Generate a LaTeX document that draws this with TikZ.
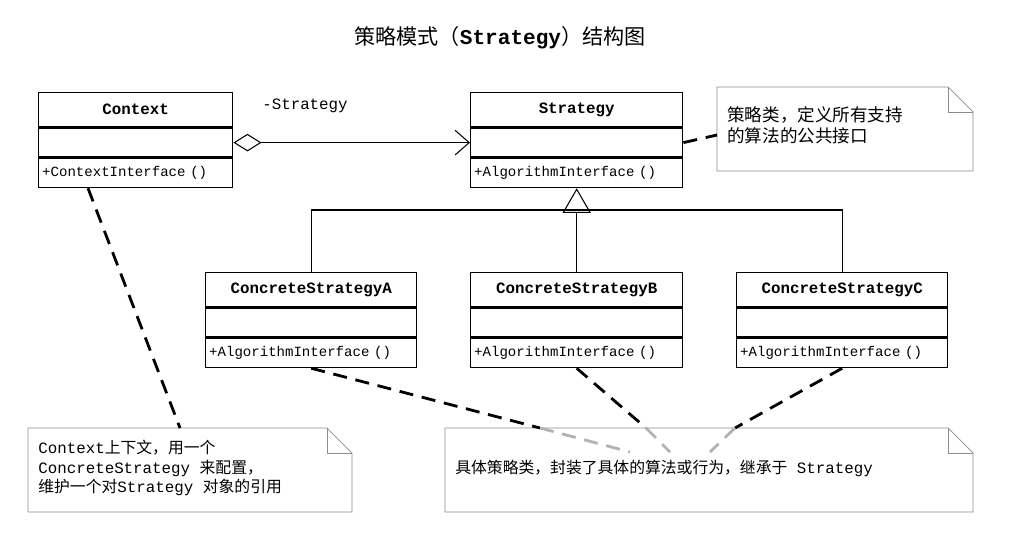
\documentclass[tikz,border=0pt]{standalone}
\usepackage{fontspec}
\setmainfont{Liberation Mono}
\newfontfamily\cjk{Noto Sans CJK SC}
\usetikzlibrary{arrows.meta,positioning}
\tikzset{
  title/.style={draw, thick, fill=white, inner sep=0pt, minimum width=#1,
    minimum height=34*0.02cm, font=\bfseries\small},
  part/.style={draw, thick, fill=white, inner sep=2pt, minimum width=#1,
    minimum height=29*0.02cm, font=\footnotesize},
  note/.style={draw=black!45, fill=white},
  link/.style={ultra thick, dashed, dash pattern=on 8pt off 5pt},
  faint/.style={link, draw=black!30}
}
% uml class: name, x, y (top), width (px), title, method
\newcommand{\umlclass}[6]{%
  \node[title=#4*0.02cm, anchor=north west] (#1) at (#2,#3) {#5};
  \node[part=#4*0.02cm, anchor=north] (#1e) at (#1.south) {};
  \node[part=#4*0.02cm, anchor=north, align=left, text width=#4*0.02cm-4pt]
    (#1m) at (#1e.south) {#6};}
% folded note: name, x1, y1, x2, y2
\newcommand{\umlnote}[5]{%
  \path[note] (#2,#3) -- (#4-25,#3) -- (#4,#3+25) -- (#4,#5) -- (#2,#5) -- cycle;
  \draw[draw=black!45] (#4-25,#3) -- (#4-25,#3+25) -- (#4,#3+25);
  \coordinate (#1) at (#2,#3);}
\begin{document}
\begin{tikzpicture}[x=0.02cm, y=-0.02cm]
\useasboundingbox (0,0) rectangle (1010,542);
\node[font=\large] (head) at (500,38) {{\cjk 策略模式（}\textbf{Strategy}{\cjk ）结构图}};

% classes
\umlclass{ctx}{38}{92}{194}{Context}{+ContextInterface ()}
\umlclass{str}{470}{92}{212}{Strategy}{+AlgorithmInterface ()}
\umlclass{csa}{205}{272}{211}{ConcreteStrategyA}{+AlgorithmInterface ()}
\umlclass{csb}{470}{272}{212}{ConcreteStrategyB}{+AlgorithmInterface ()}
\umlclass{csc}{736}{272}{211}{ConcreteStrategyC}{+AlgorithmInterface ()}

% aggregation
\draw[{Diamond[open,length=16pt,width=10pt]}-{Straight Barb[length=8pt,width=14pt]}, semithick]
  (ctxe.east) -- (stre.west);
\node[font=\small] (role) at (305,106) {-Strategy};

% generalisation
\coordinate (bus) at (576,210);
\draw[semithick] (csa.north) |- (bus) -| (csc.north);
\draw[semithick, -{Triangle[open,length=14pt,width=16pt]}] (csb.north) -- (strm.south);

% notes
\umlnote{n1}{717}{87}{973}{171}
\node[anchor=north west, align=left, font=\cjk, inner sep=0pt] (t1) at (727,106)
  {策略类，定义所有支持\\的算法的公共接口};
\umlnote{n2}{28}{428}{352}{512}
\node[anchor=north west, align=left, font=\small, inner sep=0pt] (t2) at (38,440)
  {Context{\cjk 上下文，用一个}\\ConcreteStrategy {\cjk 来配置，}\\{\cjk 维护一个对}Strategy {\cjk 对象的引用}};
\umlnote{n3}{445}{428}{973}{512}
\node[anchor=west, font=\small, inner sep=0pt] (t3) at (455,468)
  {{\cjk 具体策略类，封装了具体的算法或行为，继承于} Strategy};

% dashed links
\coordinate (ea) at (630,452); \coordinate (eb) at (670,452); \coordinate (ec) at (710,452);
\coordinate (ia) at (540,428); \coordinate (ib) at (646,428); \coordinate (ic) at (735,428);
\draw[link] (stre.east) -- (717,135);
\draw[link] (ctxm.south west) ++(50,0) -- (180,428);
\draw[link] (csam.south) -- (ia); \draw[faint] (ia) -- (ea);
\draw[link] (csbm.south) -- (ib); \draw[faint] (ib) -- (eb);
\draw[link] (cscm.south) -- (ic); \draw[faint] (ic) -- (ec);
\end{tikzpicture}
\end{document}
